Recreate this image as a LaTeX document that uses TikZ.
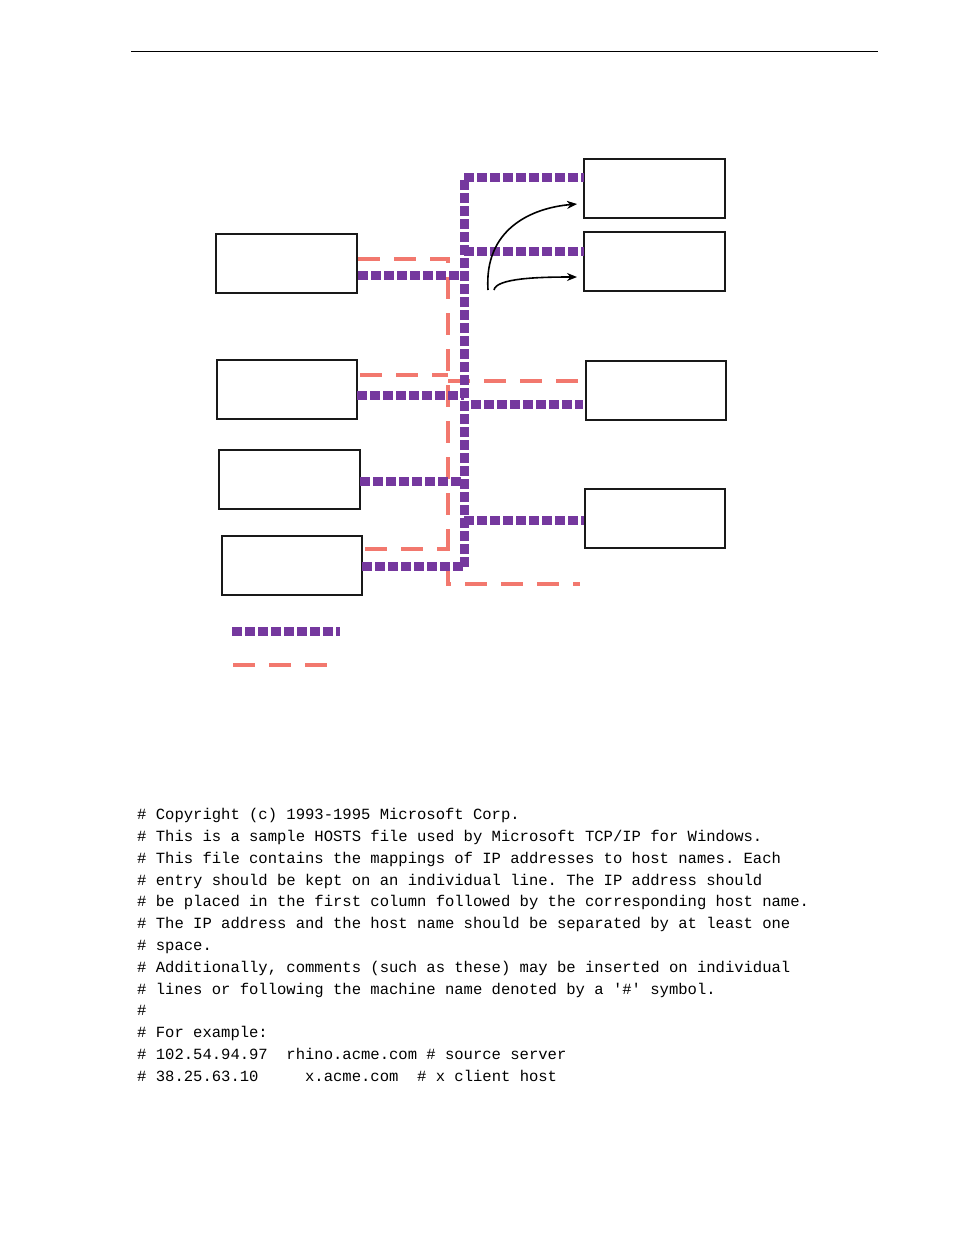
\documentclass[tikz,border=0pt]{standalone}
\usepackage{fontspec}
\setmonofont{Liberation Mono}
\usetikzlibrary{positioning,arrows.meta}
\definecolor{lan}{rgb}{0.46,0.22,0.62}
\definecolor{wan}{rgb}{0.95,0.47,0.43}
\tikzset{
  host/.style={draw=black!90,line width=2pt},
  lanline/.style={lan,line width=9pt,dash pattern=on 10pt off 3pt},
  wanline/.style={wan,line width=4.5pt,dash pattern=on 22pt off 14pt},
  codeline/.style={anchor=base west,inner sep=0pt,font=\ttfamily\fontsize{15.55}{18}\selectfont},
}
\begin{document}
\begin{tikzpicture}[x=1pt,y=-1pt]
\useasboundingbox (0,0) rectangle (954,1235);
\draw[line width=0.8pt] (131,51) -- (878,51);
% hosts
\draw[host] (216,234) rectangle (357,293);
\draw[host] (217,360) rectangle (357,419);
\draw[host] (219,450) rectangle (360,509);
\draw[host] (222,536) rectangle (362,595);
\draw[host] (584,159) rectangle (725,218);
\draw[host] (584,232) rectangle (725,291);
\draw[host] (586,361) rectangle (726,420);
\draw[host] (585,489) rectangle (725,548);
% wan
\draw[wanline] (358,259) -- (448,259) -- (448,584) -- (580,584);
\draw[wanline] (360,375) -- (448,375);
\draw[wanline] (448,381) -- (580,381);
\draw[wanline] (365,549) -- (448,549);
% lan
\draw[lanline] (464,567) -- (464,177) -- (584,177);
\draw[lanline] (464,251) -- (584,251);
\draw[lanline] (358,275) -- (464,275);
\draw[lanline] (357,395) -- (464,395);
\draw[lanline] (471,404) -- (583,404);
\draw[lanline] (360,481) -- (464,481);
\draw[lanline] (464,520) -- (584,520);
\draw[lanline] (362,566) -- (464,566);
% arrows
\coordinate (a1) at (488,290);
\coordinate (a2) at (494,290);
\draw[-{Stealth[length=10pt,width=8pt]},line width=1.6pt] (a1) .. controls (484,230) and (530,208) .. (577,204);
\draw[-{Stealth[length=10pt,width=8pt]},line width=1.6pt] (a2) .. controls (496,278) and (540,277) .. (577,277);
% legend
\draw[lanline] (232,631) -- (340,631);
\draw[wanline] (233,665) -- (328,665);
% hosts file
\node[codeline] (c1) at (137,819) {\# Copyright (c) 1993-1995 Microsoft Corp.};
\node[codeline] (c2) at (137,841) {\# This is a sample HOSTS file used by Microsoft TCP/IP for Windows.};
\node[codeline] (c3) at (137,863) {\# This file contains the mappings of IP addresses to host names. Each};
\node[codeline] (c4) at (137,885) {\# entry should be kept on an individual line. The IP address should};
\node[codeline] (c5) at (137,906) {\# be placed in the first column followed by the corresponding host name.};
\node[codeline] (c6) at (137,928) {\# The IP address and the host name should be separated by at least one};
\node[codeline] (c7) at (137,950) {\# space.};
\node[codeline] (c8) at (137,972) {\# Additionally, comments (such as these) may be inserted on individual};
\node[codeline] (c9) at (137,994) {\# lines or following the machine name denoted by a '\#' symbol.};
\node[codeline] (c10) at (137,1015) {\#};
\node[codeline] (c11) at (137,1037) {\# For example:};
\node[codeline] (c12) at (137,1059) {\# 102.54.94.97~~rhino.acme.com \# source server};
\node[codeline] (c13) at (137,1081) {\# 38.25.63.10~~~~~x.acme.com~~\# x client host};
\end{tikzpicture}
\end{document}
